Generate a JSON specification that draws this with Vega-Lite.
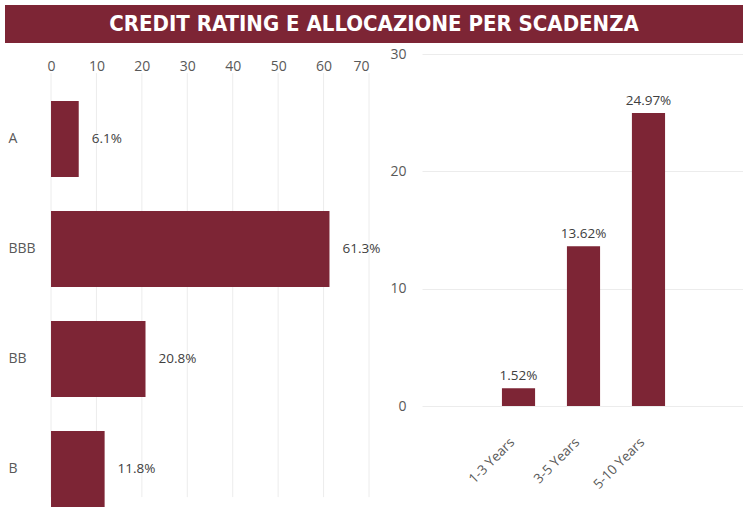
{
  "$schema": "https://vega.github.io/schema/vega-lite/v6.json",
  "background": "white",
  "padding": 5,
  "spacing": 4,
  "config": {
    "font": "Open Sans",
    "view": {"stroke": null},
    "axis": {"labelColor": "#595959", "labelFont": "Open Sans", "labelFontSize": 14, "gridColor": "#ececec", "domain": false, "ticks": false, "title": null}
  },
  "vconcat": [
    {
      "width": 738,
      "height": 38,
      "view": {"fill": "#7D2535", "stroke": null},
      "data": {"values": [{"title": "CREDIT RATING E ALLOCAZIONE PER SCADENZA"}]},
      "mark": {"type": "text", "font": "DejaVu Sans Condensed", "fontWeight": "bold", "fontSize": 22, "color": "white", "align": "center", "baseline": "middle"},
      "encoding": {"text": {"field": "title"}}
    },
    {
      "spacing": 8,
      "hconcat": [
        {
          "width": 364,
          "height": 453,
          "layer": [
            {
              "data": {"values": [{"tick": 0}, {"tick": 10}, {"tick": 20}, {"tick": 30}, {"tick": 40}, {"tick": 50}, {"tick": 60}, {"tick": 70}]},
              "mark": {"type": "rule", "color": "#ececec", "strokeWidth": 1},
              "encoding": {
                "x": {"field": "tick", "type": "quantitative", "scale": {"domain": [-10.13, 70], "nice": false, "zero": false},
                  "axis": {"orient": "top", "values": [0, 10, 20, 30, 40, 50, 60, 70], "labelBaseline": "alphabetic", "labelPadding": -16, "grid": false}},
                "y": {"datum": "A", "type": "nominal", "bandPosition": -0.37},
                "y2": {"datum": "B", "bandPosition": 0.87}
              }
            },
            {
              "data": {"values": [
                {"rating": "A", "value": 6.1},
                {"rating": "BBB", "value": 61.3},
                {"rating": "BB", "value": 20.8},
                {"rating": "B", "value": 11.8}
              ]},
              "transform": [{"calculate": "format(datum.value, '.1f') + '%'", "as": "label"}],
              "encoding": {
                "y": {"field": "rating", "type": "nominal", "sort": null,
                  "scale": {"domain": ["A", "BBB", "BB", "B"], "paddingInner": 0.31, "paddingOuter": 0.214, "align": 1},
                  "axis": {"orient": "left", "labelAlign": "left", "labelPadding": -3, "grid": false}},
                "x": {"field": "value", "type": "quantitative"}
              },
              "layer": [
                {"mark": {"type": "bar", "color": "#7D2535"}},
                {"mark": {"type": "text", "align": "left", "baseline": "middle", "dx": 13, "fontSize": 13.5, "color": "#404040"},
                  "encoding": {"text": {"field": "label"}}}
              ]
            }
          ]
        },
        {
          "width": 323,
          "height": 352,
          "data": {"values": [
            {"maturity": "1-3 Years", "value": 1.52},
            {"maturity": "3-5 Years", "value": 13.62},
            {"maturity": "5-10 Years", "value": 24.97}
          ]},
          "transform": [{"calculate": "format(datum.value, '.2f') + '%'", "as": "label"}],
          "encoding": {
            "x": {"field": "maturity", "type": "nominal",
              "scale": {"domain": ["", "1-3 Years", "3-5 Years", "5-10 Years", " "], "paddingInner": 0.49, "paddingOuter": 0.23},
              "axis": {"values": ["1-3 Years", "3-5 Years", "5-10 Years"], "labelAngle": -45, "labelAlign": "right", "labelBaseline": "top", "labelPadding": 29, "labelOffset": -11, "labelFontSize": 13.5, "grid": false}},
            "y": {"field": "value", "type": "quantitative",
              "scale": {"domain": [0, 30], "nice": false},
              "axis": {"values": [0, 10, 20, 30], "labelPadding": 16, "grid": true}}
          },
          "layer": [
            {"mark": {"type": "bar", "color": "#7D2535"}},
            {"mark": {"type": "text", "align": "center", "baseline": "bottom", "dy": -5, "fontSize": 13.5, "color": "#404040"},
              "encoding": {"text": {"field": "label"}}}
          ]
        }
      ]
    }
  ]
}
